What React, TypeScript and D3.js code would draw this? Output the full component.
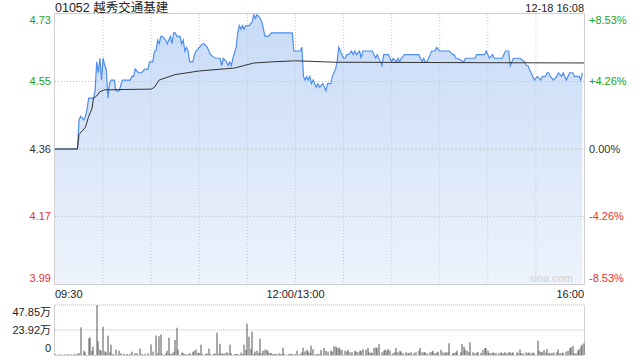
import React from "react";
import * as d3 from "d3";

const title = "01052 越秀交通基建";
const stamp = "12-18 16:08";
const prevClose = 4.36;
const priceTicks = ["4.73", "4.55", "4.36", "4.17", "3.99"];
const pctTicks = ["+8.53%", "+4.26%", "0.00%", "-4.26%", "-8.53%"];
const timeTicks = ["09:30", "12:00/13:00", "16:00"];
const volTicks = ["47.85万", "23.92万", "0"];

// minute index since 09:30 (lunch break removed), 0..330
const priceMinutes = [0,14,15,16,18,19,20,21,24,25,26,27,28,29,30,31,32,33,34,35,37,38,40,42,47,48,49,50,52,54,56,58,59,61,62,63,64,65,66,67,69,70,71,72,73,74,75,76,78,79,80,81,82,83,84,86,87,88,90,92,93,95,97,100,103,104,105,107,108,109,110,111,113,114,115,116,117,118,119,121,123,124,125,126,128,129,130,131,133,135,148,149,153,154,155,156,157,158,159,160,161,163,164,165,167,168,169,170,172,173,175,176,177,178,180,181,182,183,185,186,187,188,190,191,192,198,199,200,201,203,204,205,206,208,209,210,211,213,214,215,216,218,227,228,229,230,231,232,233,234,235,237,238,240,246,248,249,250,251,255,256,262,263,268,269,270,271,273,274,279,281,283,284,286,290,293,294,295,296,298,299,301,303,304,306,307,308,309,311,313,314,316,317,318,319,321,323,324,327,328,329];
const prices = [4.36,4.36,4.44,4.45,4.44,4.45,4.47,4.50,4.50,4.52,4.60,4.57,4.61,4.55,4.61,4.59,4.58,4.50,4.54,4.55,4.55,4.52,4.52,4.55,4.55,4.56,4.56,4.58,4.57,4.57,4.58,4.58,4.60,4.60,4.63,4.63,4.66,4.65,4.67,4.67,4.66,4.65,4.66,4.67,4.65,4.68,4.68,4.67,4.67,4.65,4.66,4.63,4.64,4.63,4.60,4.60,4.62,4.63,4.64,4.65,4.65,4.64,4.62,4.61,4.61,4.59,4.61,4.60,4.59,4.60,4.59,4.61,4.64,4.68,4.70,4.69,4.70,4.69,4.70,4.70,4.71,4.73,4.72,4.73,4.72,4.71,4.69,4.67,4.67,4.68,4.68,4.63,4.63,4.64,4.56,4.55,4.56,4.55,4.56,4.54,4.55,4.53,4.54,4.53,4.54,4.53,4.52,4.54,4.54,4.56,4.58,4.60,4.64,4.63,4.61,4.61,4.62,4.62,4.63,4.62,4.63,4.62,4.63,4.61,4.63,4.63,4.62,4.61,4.62,4.60,4.59,4.62,4.62,4.62,4.61,4.60,4.61,4.60,4.61,4.60,4.61,4.62,4.62,4.61,4.60,4.61,4.60,4.60,4.61,4.62,4.63,4.63,4.64,4.63,4.63,4.62,4.62,4.61,4.61,4.60,4.61,4.61,4.62,4.62,4.63,4.62,4.61,4.62,4.61,4.61,4.63,4.63,4.59,4.61,4.61,4.60,4.59,4.59,4.58,4.56,4.55,4.56,4.55,4.56,4.56,4.57,4.57,4.56,4.55,4.56,4.57,4.56,4.57,4.56,4.55,4.57,4.57,4.56,4.56,4.55,4.57];

const avgMinutes = [0,14,15,17,19,21,22,23,24,26,28,31,60,62,65,75,90,112,118,124,135,150,175,330];
const avgPrices = [4.36,4.36,4.40,4.41,4.42,4.45,4.46,4.47,4.50,4.506,4.518,4.523,4.525,4.53,4.55,4.565,4.575,4.583,4.59,4.597,4.60,4.603,4.599,4.597];

// volume in 万 shares
const volMinutes = [0,2,4,6,8,10,12,14,15,16,18,19,21,22,23,24,26,27,28,29,30,31,32,33,34,35,36,38,40,41,43,45,47,48,50,51,53,54,56,58,60,61,63,64,65,66,67,69,70,71,72,73,74,75,76,77,79,80,81,83,84,86,87,88,89,90,91,92,94,95,96,97,99,100,101,102,103,104,105,106,107,108,109,110,112,113,114,116,117,118,119,120,121,122,123,124,125,126,127,128,129,130,131,132,133,134,135,136,137,138,140,141,142,143,146,147,148,150,151,153,154,155,156,157,158,159,160,161,163,164,165,166,168,169,170,172,173,174,175,176,177,178,179,181,182,183,184,185,187,188,189,190,191,192,194,195,196,197,198,199,200,201,202,204,205,206,207,208,209,211,212,213,214,215,216,217,219,220,221,222,224,225,227,228,229,230,231,232,234,235,236,237,238,239,241,242,243,244,245,246,248,249,250,251,253,254,255,256,257,258,259,261,262,263,264,266,267,268,269,270,271,272,273,274,275,277,278,279,280,281,282,283,284,285,286,288,289,290,291,292,294,295,296,297,298,299,301,302,303,304,305,306,307,308,309,310,311,313,314,315,316,317,319,320,321,322,323,324,325,326,327,328,329,330];
const volumes = [0.8,0.6,0.7,0.6,0.8,0.7,0.9,1.0,1.9,26.5,4.1,2.6,16.0,16.9,4.1,8.0,47.85,13.1,5.1,4.1,27.1,3.5,2.6,18.5,2.6,9.9,1.0,5.1,4.1,1.7,1.0,1.0,1.0,3.2,1.7,1.7,6.1,1.0,1.0,1.7,10.2,3.2,18.8,2.0,17.9,19.8,1.0,1.7,4.1,16.6,1.0,1.7,3.2,14.4,26.1,5.1,2.3,2.0,1.0,1.0,1.7,2.7,4.1,5.1,2.0,2.0,9.9,1.0,1.0,1.7,6.1,1.0,1.0,1.7,21.4,1.7,10.8,1.7,1.0,1.7,2.7,1.0,9.9,1.7,1.0,1.0,1.0,2.3,1.0,9.9,4.8,30.0,17.5,5.7,22.3,1.0,3.2,4.1,2.0,15.6,1.7,4.1,5.1,5.1,3.5,1.7,2.0,1.0,1.0,1.0,1.7,1.0,7.0,1.0,1.0,1.0,1.0,1.0,4.1,1.0,2.6,7.0,3.5,5.1,3.5,2.0,8.9,5.5,1.0,1.0,1.0,4.8,6.7,4.1,3.2,4.1,3.2,8.3,8.0,6.7,7.3,5.7,4.8,4.1,3.2,4.8,2.6,2.6,4.1,3.2,2.6,4.1,4.1,5.4,5.1,6.7,2.6,2.3,2.0,6.7,7.3,6.7,10.5,2.6,4.1,5.1,4.1,5.7,4.1,1.7,2.6,6.7,2.6,4.1,3.2,1.7,2.6,1.7,2.0,2.6,2.0,2.6,4.1,6.7,2.6,2.6,2.6,1.7,2.6,3.2,4.1,1.7,2.3,3.2,5.1,2.6,2.0,2.6,2.6,11.2,1.7,2.0,2.6,4.1,2.6,10.5,8.0,5.1,4.1,2.6,12.1,2.6,1.7,2.3,2.6,2.0,4.8,6.7,6.7,4.1,2.0,1.7,2.6,1.7,2.0,1.7,2.6,1.7,1.7,2.6,1.7,2.6,2.6,1.7,2.6,2.6,1.7,5.1,1.7,1.7,2.6,2.0,2.3,1.7,2.3,1.7,13.7,4.1,3.0,2.6,4.8,2.3,5.7,1.7,1.7,2.0,2.3,2.6,5.4,1.7,1.7,2.3,3.2,4.1,6.7,7.3,8.6,1.7,1.7,4.1,5.7,8.0,9.9,11.2];

const W = 640, H = 360;
const L = 55, R = 584, T = 14, B = 284;
const VT = 305, VB = 355;
const volMax = 47.85;
const pMax = prevClose * 1.0853, pMin = prevClose * (1 - 0.0853);

export default function App() {
  const x = d3.scaleLinear().domain([0, 330]).range([L, R]);
  const y = d3.scaleLinear().domain([pMin, pMax]).range([B, T]);
  const yv = d3.scaleLinear().domain([0, volMax]).range([VB, VT]);

  const pts = priceMinutes.map((m, i) => [m, prices[i]] as [number, number]);
  const line = d3.line<[number, number]>().x(d => x(d[0])).y(d => y(d[1]));
  const area = d3.area<[number, number]>().x(d => x(d[0])).y0(B).y1(d => y(d[1]));
  const avgPts = avgMinutes.map((m, i) => [m, avgPrices[i]] as [number, number]);

  const gridX = d3.range(1, 11).map(i => L + (R - L) * i / 11);
  const gridY = [1, 2, 3].map(i => T + (B - T) * i / 4);
  const labelY = [T + 6, gridY[0], gridY[1], gridY[2], B - 6];
  const colors = ["#1aa31a", "#1aa31a", "#333", "#f03030", "#f03030"];
  const font = "Arial, 'Liberation Sans', 'Noto Sans CJK SC', sans-serif";

  return (
    <svg width={W} height={H} style={{ position: "absolute", left: 0, top: 0, background: "#fff" }} fontFamily={font}>
      <defs>
        <linearGradient id="fillG" x1="0" y1="0" x2="0" y2="1">
          <stop offset="0%" stopColor="#c7dbf7" />
          <stop offset="100%" stopColor="#eef3fc" />
        </linearGradient>
      </defs>
      <text x={L} y={12} fontSize={12.5} fill="#222">{title}</text>
      <text x={R} y={12} fontSize={11} fill="#222" textAnchor="end">{stamp}</text>

      <path d={area(pts) || ""} fill="url(#fillG)" />
      {gridX.map((gx, i) => (
        <line key={"gx" + i} x1={gx} x2={gx} y1={T} y2={B} stroke="#c8c8c8" strokeDasharray="1,2" />
      ))}
      {gridY.map((gy, i) => (
        <line key={"gy" + i} x1={L} x2={R} y1={gy} y2={gy} stroke="#c0c0c0" strokeDasharray={i === 1 ? "2,2" : "1,2"} />
      ))}
      <path d={line(pts) || ""} fill="none" stroke="#4f8ef0" strokeWidth={1.2} />
      <path d={line(avgPts) || ""} fill="none" stroke="#333" strokeWidth={1} />
      <rect x={L - 0.5} y={T - 0.5} width={R - L + 1} height={B - T + 1} fill="none" stroke="#cfcfcf" />

      {priceTicks.map((t, i) => (
        <text key={"pt" + i} x={51} y={labelY[i]} dy="0.35em" fontSize={11} fill={colors[i]} textAnchor="end">{t}</text>
      ))}
      {pctTicks.map((t, i) => (
        <text key={"pc" + i} x={589} y={labelY[i]} dy="0.35em" fontSize={11} fill={colors[i]}>{t}</text>
      ))}
      <text x={573} y={B - 6} dy="0.35em" fontSize={11} fill="#d0d0d0" textAnchor="end">sina.com</text>

      <text x={L} y={298} fontSize={11} fill="#222">{timeTicks[0]}</text>
      <text x={x(150)} y={298} fontSize={11} fill="#222" textAnchor="middle">{timeTicks[1]}</text>
      <text x={R} y={298} fontSize={11} fill="#222" textAnchor="end">{timeTicks[2]}</text>

      <line x1={L} x2={R} y1={VT} y2={VT} stroke="#bbb" strokeDasharray="1,1" />
      <line x1={L} x2={R} y1={yv(volMax / 2)} y2={yv(volMax / 2)} stroke="#bbb" strokeDasharray="1,1" />
      <line x1={R + 0.5} x2={R + 0.5} y1={VT} y2={VB} stroke="#cfcfcf" />
      <line x1={L - 0.5} x2={L - 0.5} y1={VT} y2={VB} stroke="#cfcfcf" />
      <line x1={L} x2={R} y1={VB + 0.5} y2={VB + 0.5} stroke="#cfcfcf" />
      {volMinutes.map((m, i) => (
        <rect key={"v" + i} x={Math.round(x(m)) - 0.5} y={yv(volumes[i])} width={1} height={VB - yv(volumes[i])} fill="#555" />
      ))}
      {volTicks.map((t, i) => (
        <text key={"vt" + i} x={51} y={[312, 330, 348][i]} dy="0.35em" fontSize={11} fill="#222" textAnchor="end">{t}</text>
      ))}
    </svg>
  );
}
